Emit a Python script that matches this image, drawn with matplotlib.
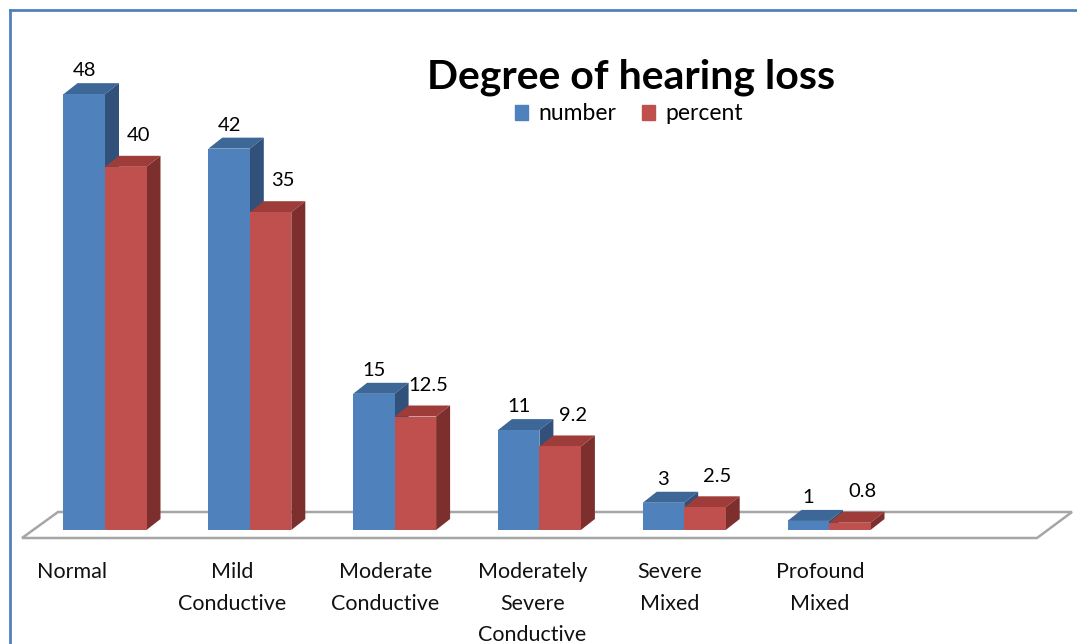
import matplotlib
matplotlib.use('Agg')
from matplotlib import pyplot as plt
from matplotlib.patches import Polygon, Patch
import numpy as np

plt.rcParams['font.family'] = ['Lato', 'DejaVu Sans']

categories = ['Normal', 'Mild\nConductive', 'Moderate\nConductive',
              'Moderately\nSevere\nConductive', 'Severe\nMixed', 'Profound\nMixed']
number = [48, 42, 15, 11, 3, 1]
percent = [40, 35, 12.5, 9.2, 2.5, 0.8]
number_labels = ['48', '42', '15', '11', '3', '1']
percent_labels = ['40', '35', '12.5', '9.2', '2.5', '0.8']

W, H = 1077, 644
fig = plt.figure(figsize=(W/100, H/100), dpi=100)
ax = fig.add_axes([0, 0, 1, 1])
ax.set_axis_off()

# pixel geometry of the reference -> data limits
px_cat = 144.8      # px per category
px_val = 9.08       # px per unit value
x0_px, base_px = 105, 530
ax.set_xlim((0 - x0_px)/px_cat, (W - x0_px)/px_cat)
ax.set_ylim((base_px - H)/px_val, base_px/px_val)

w = 41.5/px_cat
dx = 14/px_cat
dy = 11/px_val

blue, blue_top, blue_side = '#4F81BD', '#3D6797', '#31517A'
red, red_top, red_side = '#C0504D', '#9E3C3A', '#7D2F2D'

# floor
fy_front = (base_px - 538)/px_val
fy_back = (base_px - 512)/px_val
floor = Polygon([((22 - x0_px)/px_cat, fy_front), ((1037 - x0_px)/px_cat, fy_front),
                 ((1072 - x0_px)/px_cat, fy_back), ((58 - x0_px)/px_cat, fy_back)],
                closed=True, facecolor='white', edgecolor='#A6A6A6', lw=1.8, zorder=1)
ax.add_patch(floor)

x = np.arange(len(categories))

def bar3d(xl, h, front, top, side, z):
    ax.bar(xl, h, w, align='edge', color=front, zorder=z + 0.2)
    xr = xl + w
    ax.add_patch(Polygon([(xl, h), (xr, h), (xr + dx, h + dy), (xl + dx, h + dy)],
                         closed=True, facecolor=top, edgecolor='none', zorder=z))
    ax.add_patch(Polygon([(xr, 0), (xr, h), (xr + dx, h + dy), (xr + dx, dy)],
                         closed=True, facecolor=side, edgecolor='none', zorder=z))

for i in x:
    bar3d(i - w, number[i], blue, blue_top, blue_side, 2)
    bar3d(i, percent[i], red, red_top, red_side, 3)

for i in x:
    ax.annotate(number_labels[i], (i - w/2, number[i]), xytext=(0, 17),
                textcoords='offset points', ha='center', va='center', fontsize=14.5)
    ax.annotate(percent_labels[i], (i + w/2, percent[i]), xytext=(9, 22.5),
                textcoords='offset points', ha='center', va='center', fontsize=14.5)

# category labels sit a little left of their bar pairs, as in the original
label_shift = [-33, -18, -9, -7, -15, -9]
for i, c in enumerate(categories):
    ax.text(i + label_shift[i]/px_cat, (base_px - 562)/px_val, c, ha='center', va='top',
            fontsize=15.5, linespacing=1.72, color='#111111')

fig.text(631/W, 1 - 77/H, 'Degree of hearing loss', ha='center', va='center',
         fontsize=29.5, fontweight='bold')
handles = [Patch(color=blue, label='number'), Patch(color=red, label='percent')]
fig.legend(handles=handles, loc='center', bbox_to_anchor=(629/W, 1 - 114/H), ncol=2,
           frameon=False, fontsize=16.5, handlelength=0.6, handleheight=0.6,
           handletextpad=0.45, columnspacing=1.1)

# chart border
fig.add_artist(plt.Line2D([10/W, 1], [1 - 10/H, 1 - 10/H], color='#4F81BD', lw=2))
fig.add_artist(plt.Line2D([10/W, 10/W], [0, 1 - 10/H], color='#4F81BD', lw=2))

plt.savefig('out.png', dpi=100)
